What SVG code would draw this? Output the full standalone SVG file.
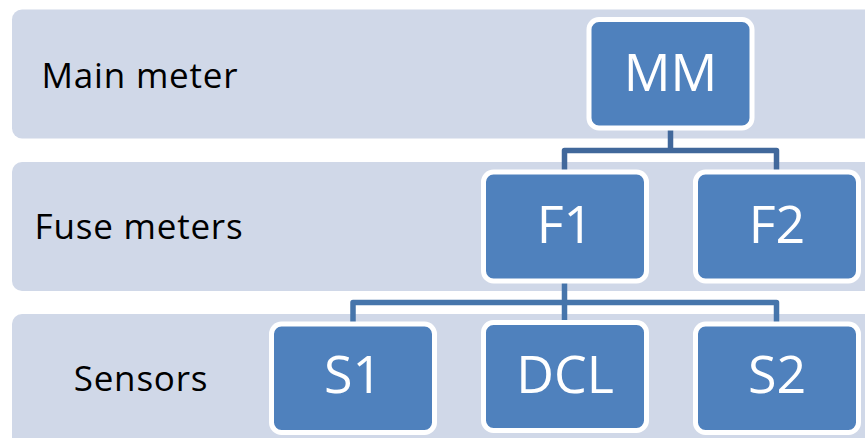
<svg xmlns="http://www.w3.org/2000/svg" width="865" height="438" viewBox="0 0 865 438">
<style>
.band{fill:#d0d8e8}
.lbl{font-family:"Open Sans","Noto Sans",sans-serif;font-size:35px;letter-spacing:0.8px;fill:#000;text-anchor:middle}
.node rect{fill:#4f81bd;stroke:#fff;stroke-width:5}
.node text{font-family:"Open Sans","Noto Sans",sans-serif;font-size:52px;fill:#fff;text-anchor:middle}
.conn{fill:none;stroke-width:5.5;stroke-linejoin:round}
</style>
<rect width="865" height="438" fill="#fff"/>
<g id="bands">
<rect class="band" x="12" y="9.5" width="880" height="129" rx="10"/>
<rect class="band" x="12" y="162" width="880" height="129" rx="10"/>
<rect class="band" x="12" y="314" width="880" height="140" rx="10"/>
<text class="lbl" x="140" y="87.5">Main meter</text>
<text class="lbl" x="139" y="238.5">Fuse meters</text>
<text class="lbl" x="141" y="390.5">Sensors</text>
</g>
<g id="connectors">
<path class="conn" stroke="#41689b" d="M670.5,128 V150.5 M564.5,172 V150.5 H776.5 V172"/>
<path class="conn" stroke="#4675ab" d="M564.5,281 V322 M353,324 V302.5 H776.5 V324"/>
</g>
<g id="MM" class="node"><rect x="589" y="19.5" width="163" height="108.5" rx="10"/><text x="670.5" y="90.5">MM</text></g>
<g id="F1" class="node"><rect x="483.5" y="172" width="163" height="109" rx="10"/><text x="565" y="242.5">F1</text></g>
<g id="F2" class="node"><rect x="695.5" y="172" width="163" height="109" rx="10"/><text x="777" y="242.5">F2</text></g>
<g id="S1" class="node"><rect x="271.5" y="324" width="163" height="108.5" rx="10"/><text x="353" y="393">S1</text></g>
<g id="DCL" class="node"><rect x="483.5" y="322.5" width="163" height="108" rx="10"/><text x="565" y="392.5">DCL</text></g>
<g id="S2" class="node"><rect x="695.5" y="324" width="163" height="108.5" rx="10"/><text x="777" y="393">S2</text></g>
</svg>
